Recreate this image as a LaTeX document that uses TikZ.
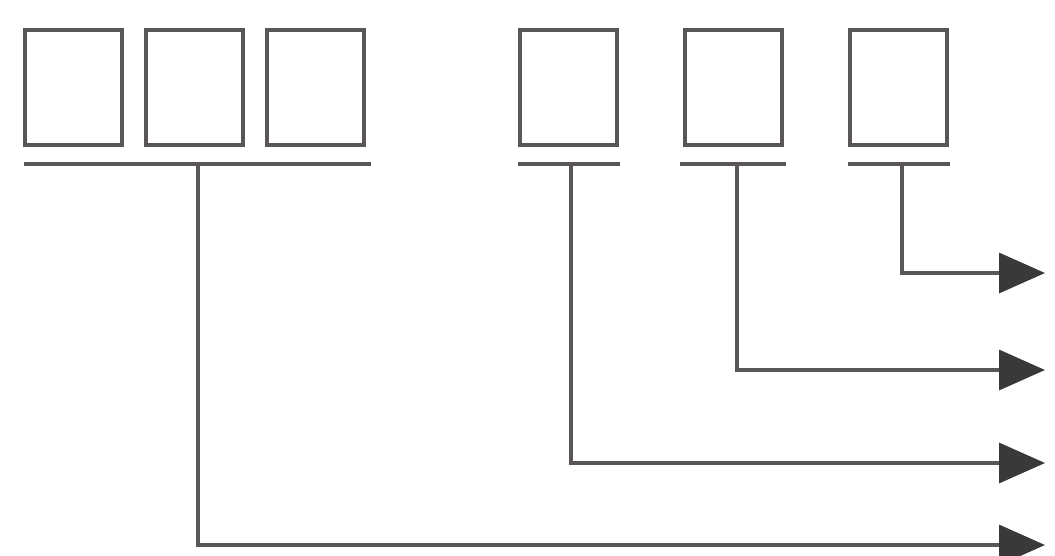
\documentclass[tikz,border=0pt]{standalone}
\usetikzlibrary{arrows.meta}
\definecolor{ln}{HTML}{5A5656}
\definecolor{hd}{HTML}{3A3838}
\begin{document}
\begin{tikzpicture}[x=1pt,y=-1pt,
  cell/.style={draw=ln,line width=4pt,minimum width=97pt,minimum height=115pt,inner sep=0pt},
  bar/.style={draw=ln,line width=3.5pt},
  link/.style={draw=ln,line width=3.5pt,-{Triangle[length=46pt,width=40pt,color=hd]}}]
\useasboundingbox (0,0) rectangle (1055,555);
\node[cell] (b1) at (73.5,87.5) {};
\node[cell] (b2) at (194.5,87.5) {};
\node[cell] (b3) at (315.5,87.5) {};
\node[cell] (b4) at (568.5,87.5) {};
\node[cell] (b5) at (733,87.5) {};
\node[cell] (b6) at (898,87.5) {};
\coordinate (u1l) at (24,164);
\coordinate (u1r) at (371,164);
\coordinate (u1) at (198,164);
\coordinate (u4l) at (518,164);
\coordinate (u4r) at (620,164);
\coordinate (u4) at (571,164);
\coordinate (u5l) at (680,164);
\coordinate (u5r) at (786,164);
\coordinate (u5) at (737,164);
\coordinate (u6l) at (848,164);
\coordinate (u6r) at (950,164);
\coordinate (u6) at (902,164);
\coordinate (e6) at (1045,273);
\coordinate (e5) at (1045,370);
\coordinate (e4) at (1045,463);
\coordinate (e1) at (1045,545);
\draw[bar] (u1l) -- (u1r);
\draw[bar] (u4l) -- (u4r);
\draw[bar] (u5l) -- (u5r);
\draw[bar] (u6l) -- (u6r);
\draw[link] (u6) |- (e6);
\draw[link] (u5) |- (e5);
\draw[link] (u4) |- (e4);
\draw[link] (u1) |- (e1);
\end{tikzpicture}
\end{document}
